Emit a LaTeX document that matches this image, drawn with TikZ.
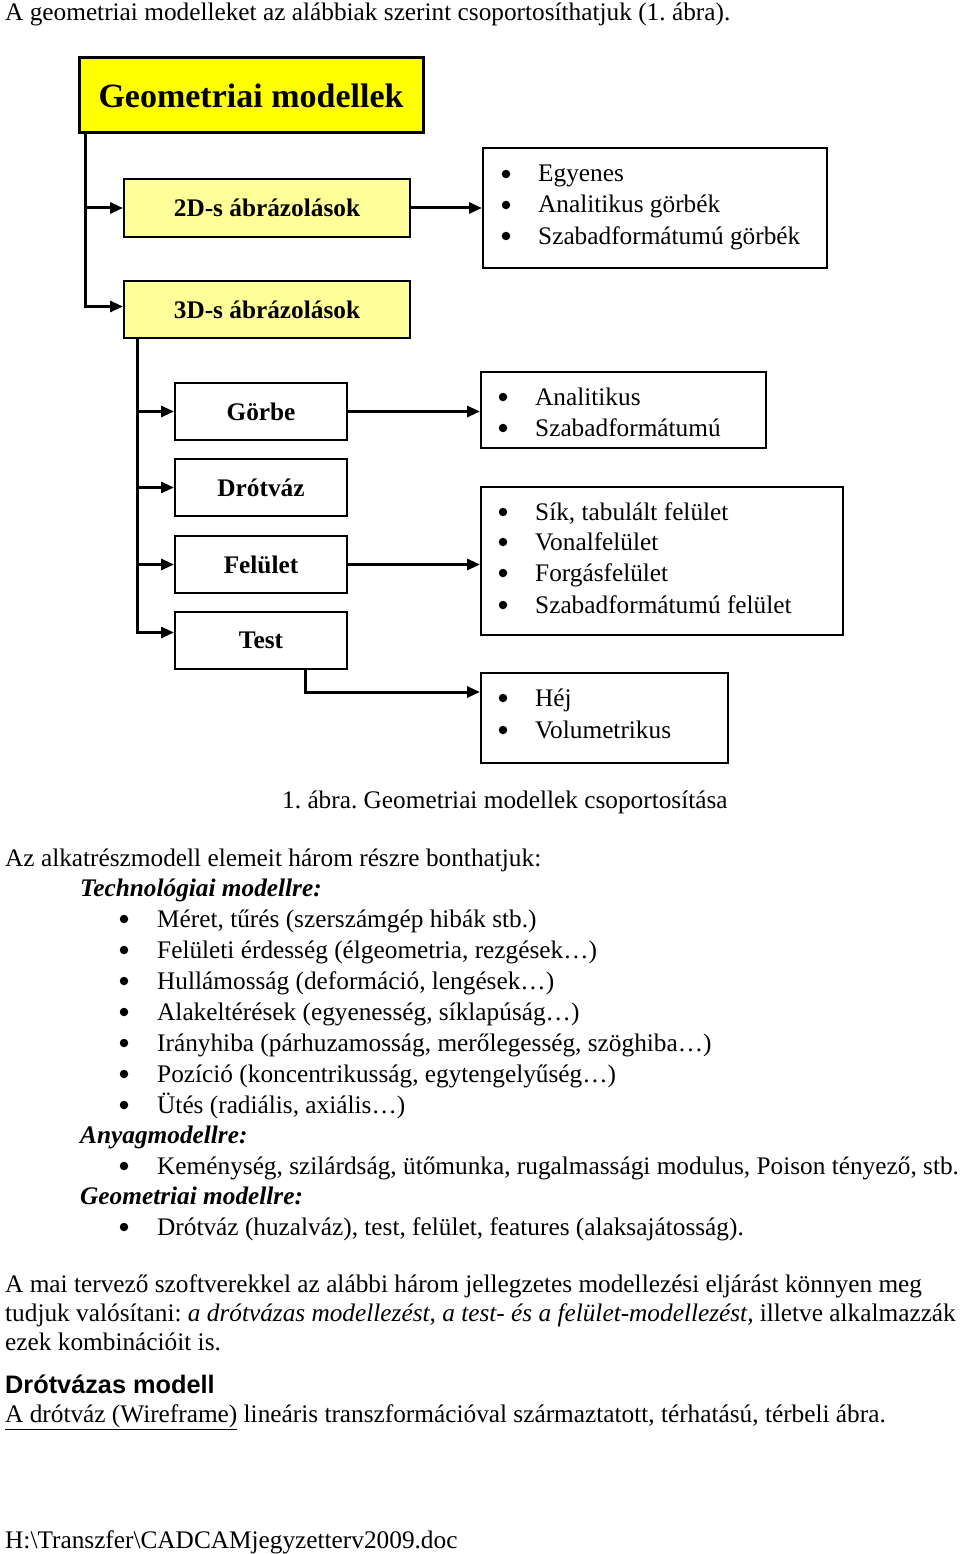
\documentclass[tikz,border=0pt]{standalone}
\usepackage{fontspec}
\setmainfont{Liberation Serif}
\newfontfamily\arialfont{Liberation Sans}
\usetikzlibrary{arrows.meta}
\definecolor{titleyellow}{RGB}{255,255,0}
\definecolor{paleyellow}{RGB}{255,255,153}
\frenchspacing

\begin{document}
\begin{tikzpicture}[x=1pt, y=-1pt,
  txt/.style={anchor=base west, inner sep=0pt, font=\fontsize{25.3}{29}\selectfont},
  dot/.style={circle, fill=black, inner sep=0pt, minimum size=8.5pt},
  box/.style={draw, line width=2pt, inner sep=0pt, font=\fontsize{25.3}{29}\selectfont\bfseries},
  conn/.style={line width=3pt, -{Triangle[length=13pt, width=11pt]}}]
\useasboundingbox (0,0) rectangle (960,1554);
\fill[white] (0,0) rectangle (960,1554);
\node[txt] (intro) at (5,21) {A geometriai modelleket az alábbiak szerint csoportosíthatjuk (1. ábra).};
\node[box, line width=3pt, fill=titleyellow, minimum width=344pt, minimum height=75pt,
  font=\fontsize{34}{40}\selectfont\bfseries] (geo) at (251,95.5) {Geometriai modellek};
\node[box, fill=paleyellow, minimum width=286pt, minimum height=58pt] (d2) at (267,208) {2D-s ábrázolások};
\node[box, fill=paleyellow, minimum width=286pt, minimum height=57pt] (d3) at (267,309.5) {3D-s ábrázolások};
\node[box, minimum width=172pt, minimum height=57pt] (gorbe) at (261,411.5) {Görbe};
\node[box, minimum width=172pt, minimum height=57pt] (drot) at (261,487.5) {Drótváz};
\node[box, minimum width=172pt, minimum height=57pt] (felulet) at (261,564.5) {Felület};
\node[box, minimum width=172pt, minimum height=57pt] (test) at (261,640.5) {Test};
\node[box, minimum width=344pt, minimum height=120pt] (l1) at (655,208) {};
\node[box, minimum width=285pt, minimum height=76pt] (l2) at (623.5,410) {};
\node[box, minimum width=362pt, minimum height=148pt] (l3) at (662,561) {};
\node[box, minimum width=247pt, minimum height=90pt] (l4) at (604.5,718) {};
\foreach \y/\t [count=\i] in {174/Egyenes, 205/Analitikus görbék, 236/Szabadformátumú görbék} {
  \node[dot] (p1\i) at (506,\y) {};
  \node[txt] (e1\i) at (538,\y+8) {\t};
}
\foreach \y/\t [count=\i] in {397/Analitikus, 428/Szabadformátumú} {
  \node[dot] (p2\i) at (503,\y) {};
  \node[txt] (e2\i) at (535,\y+8) {\t};
}
\foreach \y/\t [count=\i] in {512/{Sík, tabulált felület}, 542/Vonalfelület, 573/Forgásfelület, 605/Szabadformátumú felület} {
  \node[dot] (p3\i) at (503,\y) {};
  \node[txt] (e3\i) at (535,\y+8) {\t};
}
\foreach \y/\t [count=\i] in {698/Héj, 730/Volumetrikus} {
  \node[dot] (p4\i) at (503,\y) {};
  \node[txt] (e4\i) at (535,\y+8) {\t};
}
\coordinate (tr1) at (85,133);
\draw[conn] (tr1 |- d2.west) -- (d2.west);
\draw[conn] (tr1) |- ([yshift=3pt]d3.west);
\draw[conn] (d2.east) -- (d2.east -| l1.west);
\coordinate (tr2) at (137,338);
\draw[conn] (tr2 |- gorbe.west) -- (gorbe.west);
\draw[conn] (tr2 |- drot.west) -- (drot.west);
\draw[conn] (tr2 |- felulet.west) -- (felulet.west);
\draw[conn] (tr2) |- ([yshift=8pt]test.west);
\draw[conn] (gorbe.east) -- (gorbe.east -| l2.west);
\draw[conn] (felulet.east) -- (felulet.east -| l3.west);
\draw[conn] ([xshift=44pt]test.south) |- ([yshift=26pt]l4.west);
\node[txt] (cap) at (282,808) {1. ábra. Geometriai modellek csoportosítása};
\node[txt] (parts) at (5,866) {Az alkatrészmodell elemeit három részre bonthatjuk:};
\node[txt, font=\fontsize{25.3}{29}\selectfont\bfseries\itshape] (tech) at (80,896) {Technológiai modellre:};
\foreach \y/\t [count=\i] in {919/{Méret, tűrés (szerszámgép hibák stb.)},
  950/{Felületi érdesség (élgeometria, rezgések…)},
  981/{Hullámosság (deformáció, lengések…)},
  1012/{Alakeltérések (egyenesség, síklapúság…)},
  1043/{Irányhiba (párhuzamosság, merőlegesség, szöghiba…)},
  1074/{Pozíció (koncentrikusság, egytengelyűség…)},
  1105/{Ütés (radiális, axiális…)}} {
  \node[dot] (q\i) at (124,\y) {};
  \node[txt] (t\i) at (157,\y+8) {\t};
}
\node[txt, font=\fontsize{25.3}{29}\selectfont\bfseries\itshape] (anyag) at (80,1143) {Anyagmodellre:};
\node[dot] (qa) at (124,1166) {};
\node[txt] (ta) at (157,1174) {Keménység, szilárdság, ütőmunka, rugalmassági modulus, Poison tényező, stb.};
\node[txt, font=\fontsize{25.3}{29}\selectfont\bfseries\itshape] (geom) at (80,1204) {Geometriai modellre:};
\node[dot] (qg) at (124,1227) {};
\node[txt] (tg) at (157,1235) {Drótváz (huzalváz), test, felület, features (alaksajátosság).};
\node[txt] (par1) at (5,1292) {A mai tervező szoftverekkel az alábbi három jellegzetes modellezési eljárást könnyen meg};
\node[txt] (par2) at (5,1321) {tudjuk valósítani: \textit{a drótvázas modellezést, a test- és a felület-modellezést,} illetve alkalmazzák};
\node[txt] (par3) at (5,1350) {ezek kombinációit is.};
\node[txt, font=\fontsize{25.3}{29}\arialfont\bfseries] (head) at (5,1393) {Drótvázas modell};
\node[txt] (wire) at (5,1422) {\underline{A drótváz (Wireframe)} lineáris transzformációval származtatott, térhatású, térbeli ábra.};
\node[txt] (foot) at (5,1548) {H:\textbackslash Transzfer\textbackslash CADCAMjegyzetterv2009.doc};
\end{tikzpicture}
\end{document}
